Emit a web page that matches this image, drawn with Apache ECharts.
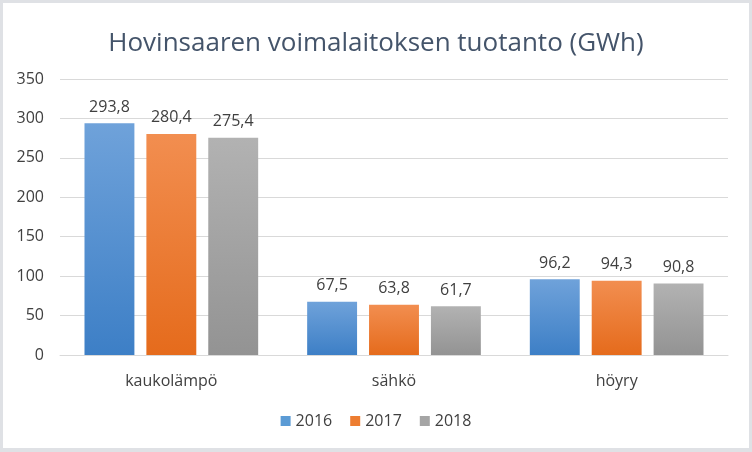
<!DOCTYPE html>
<html><head><meta charset="utf-8">
<script src="https://cdn.jsdelivr.net/npm/echarts@6/dist/echarts.min.js"></script>
<style>
html,body{margin:0;padding:0;background:#dfe1e5;}
#wrap{position:absolute;left:3px;top:3px;width:746px;height:445px;background:#fff;overflow:hidden;}
#c{width:752px;height:452px;position:absolute;left:-3px;top:-3px;}
</style></head>
<body><div id="wrap"><div id="c"></div></div>
<script>
const categories = ['kaukolämpö', 'sähkö', 'höyry'];
const seriesNames = ['2016', '2017', '2018'];
const values2016 = [293.8, 67.5, 96.2];
const values2017 = [280.4, 63.8, 94.3];
const values2018 = [275.4, 61.7, 90.8];
const yTicks = [0, 50, 100, 150, 200, 250, 300, 350];

const FONT = "'Open Sans', 'Noto Sans', sans-serif";
function grad(top, bottom) {
  return new echarts.graphic.LinearGradient(0, 0, 0, 1, [
    {offset: 0, color: top}, {offset: 1, color: bottom}
  ]);
}
const colors = [
  {top: '#6fa2da', bottom: '#3d7fc6', legend: '#5b9bd5'},
  {top: '#f28e50', bottom: '#e56b1c', legend: '#ed7d31'},
  {top: '#b2b2b2', bottom: '#939393', legend: '#a5a5a5'}
];
const allValues = [values2016, values2017, values2018];

const chart = echarts.init(document.getElementById('c'));
chart.setOption({
  backgroundColor: 'transparent',
  animation: false,
  title: {
    text: 'Hovinsaaren voimalaitoksen tuotanto (GWh)',
    left: 'center', top: 26,
    textStyle: {fontFamily: FONT, fontSize: 26, fontWeight: 'normal', color: '#44546a'}
  },
  legend: {
    bottom: 18, left: 'center',
    itemWidth: 10, itemHeight: 10, itemGap: 18,
    icon: 'rect',
    textStyle: {fontFamily: FONT, fontSize: 16, color: '#404040'},
    data: seriesNames.map((n, i) => ({name: n, itemStyle: {color: colors[i].legend}}))
  },
  grid: {left: 60, right: 24, top: 79, bottom: 97, containLabel: false},
  xAxis: {
    type: 'category', data: categories,
    axisLine: {lineStyle: {color: '#d9d9d9'}},
    axisTick: {show: false},
    axisLabel: {fontFamily: FONT, fontSize: 16, color: '#404040', margin: 18}
  },
  yAxis: {
    type: 'value', min: yTicks[0], max: yTicks[yTicks.length - 1], interval: 50,
    axisLine: {show: false}, axisTick: {show: false},
    splitLine: {lineStyle: {color: '#d9d9d9'}},
    axisLabel: {fontFamily: FONT, fontSize: 16, color: '#404040', margin: 16}
  },
  series: seriesNames.map((n, i) => ({
    name: n, type: 'bar', data: allValues[i],
    barGap: '24%', barCategoryGap: '22%',
    itemStyle: {color: grad(colors[i].top, colors[i].bottom)},
    label: {
      show: true, position: 'top', distance: 8,
      fontFamily: FONT, fontSize: 16, color: '#404040',
      formatter: p => p.value.toFixed(1).replace('.', ',')
    }
  }))
});
</script></body></html>
